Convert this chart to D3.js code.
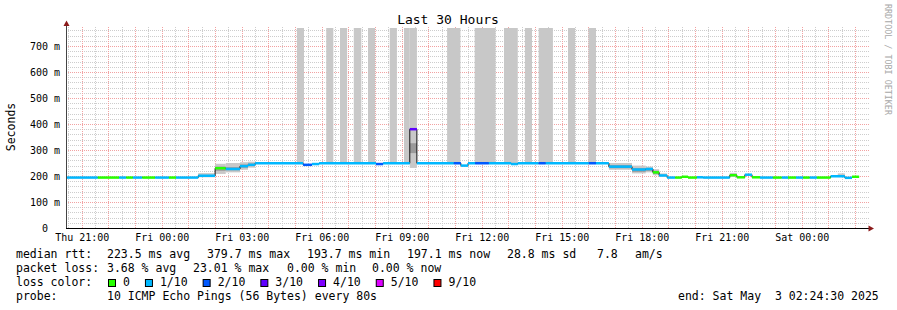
<!DOCTYPE html>
<html>
<head>
<meta charset="utf-8">
<script src="https://cdn.jsdelivr.net/npm/d3@7"></script>
<style>
  body { margin: 0; background: #fff; }
  svg text { font-family: "DejaVu Sans Mono", monospace; white-space: pre; }
</style>
</head>
<body>
<svg id="chart" width="897" height="310"></svg>
<script>
// time window of the graph
const rangeStart = "Thu 20:24:30";
const rangeEnd = "Sat 02:24:30";

// median rtt, one step per consolidated interval (ms) and its loss (tenths)
const stepTimes = [
  "Thu 20:25", "Thu 21:36", "Thu 22:24", "Thu 22:40", "Thu 22:55", "Thu 23:16", "Thu 23:45",
  "Fri 00:16", "Fri 00:32", "Fri 01:22", "Fri 02:00", "Fri 02:24", "Fri 02:56", "Fri 03:14",
  "Fri 03:30", "Fri 05:18", "Fri 05:38", "Fri 05:54", "Fri 08:02", "Fri 08:18", "Fri 09:18",
  "Fri 09:34", "Fri 10:57", "Fri 11:13", "Fri 11:29", "Fri 11:45", "Fri 12:16", "Fri 13:06",
  "Fri 13:21", "Fri 14:08", "Fri 14:24", "Fri 16:01", "Fri 16:17", "Fri 16:46", "Fri 17:38",
  "Fri 18:09", "Fri 18:25", "Fri 18:39", "Fri 18:57", "Fri 19:15", "Fri 19:30", "Fri 19:44",
  "Fri 20:04", "Fri 20:18", "Fri 21:18", "Fri 21:34", "Fri 21:52", "Fri 22:08", "Fri 22:26",
  "Fri 22:55", "Fri 23:15", "Fri 23:29", "Fri 23:47", "Sat 00:03", "Sat 00:18", "Sat 00:34",
  "Sat 01:05", "Sat 01:37", "Sat 01:53"
];
const medianMs = [
  194, 194, 194, 194, 194, 194, 194,
  194, 194, 201, 230, 227, 238, 243,
  249, 243, 246, 249, 246, 249, 380,
  249, 249, 240, 249, 249, 249, 246,
  249, 249, 249, 249, 249, 236, 225,
  227, 214, 202, 194, 194, 197, 194,
  195, 194, 203, 195, 205, 195, 194,
  194, 194, 194, 194, 194, 194, 194,
  199, 193, 197
];
const lossTenths = [
  1, 0, 1, 0, 1, 0, 1,
  0, 1, 1, 0, 1, 1, 1,
  1, 2, 1, 1, 2, 1, 3,
  1, 2, 1, 1, 2, 1, 1,
  1, 2, 1, 2, 1, 1, 1,
  1, 0, 1, 1, 0, 0, 0,
  1, 1, 0, 0, 1, 0, 1,
  0, 1, 0, 1, 0, 1, 0,
  1, 1, 0
];
const lineEnd = "Sat 02:09";

// smoke (spread of the pings); hi values above the graph top are clipped
const smokeFrom = ["Fri 01:22", "Fri 02:00", "Fri 02:24", "Fri 02:56", "Fri 03:14",
  "Fri 05:04", "Fri 06:10", "Fri 06:41", "Fri 07:12", "Fri 07:44", "Fri 08:33", "Fri 09:05",
  "Fri 09:18", "Fri 10:42", "Fri 11:44", "Fri 12:50", "Fri 13:37", "Fri 14:08", "Fri 15:14",
  "Fri 16:00", "Fri 16:46", "Fri 17:38", "Fri 18:09", "Fri 18:25", "Fri 18:39", "Fri 21:18",
  "Sat 01:21"];
const smokeTo = ["Fri 02:00", "Fri 02:24", "Fri 02:56", "Fri 03:14", "Fri 03:30",
  "Fri 05:20", "Fri 06:26", "Fri 06:57", "Fri 07:29", "Fri 08:00", "Fri 08:49", "Fri 09:18",
  "Fri 09:34", "Fri 11:12", "Fri 12:31", "Fri 13:21", "Fri 13:53", "Fri 14:40", "Fri 15:30",
  "Fri 16:17", "Fri 17:38", "Fri 18:09", "Fri 18:25", "Fri 18:39", "Fri 18:57", "Fri 21:34",
  "Sat 01:37"];
const smokeLo = [195, 208, 214, 224, 232,
  249, 249, 249, 249, 249, 249, 249,
  231, 249, 249, 249, 249, 249, 249,
  249, 224, 210, 214, 203, 197, 196,
  196];
const smokeHi = [211, 247, 250, 253, 255,
  900, 900, 900, 900, 900, 900, 900,
  900, 900, 900, 900, 900, 900, 900,
  900, 250, 240, 236, 226, 210, 212,
  210];
const coreLo = [199, 220, 222, 232, 238,
  null, null, null, null, null, null, null,
  288, null, null, null, null, null, null,
  null, 230, 216, 220, 208, null, null,
  null];
const coreHi = [204, 236, 234, 244, 248,
  null, null, null, null, null, null, null,
  326, null, null, null, null, null, null,
  null, 242, 230, 230, 220, null, null,
  null];

// axis values
const yTicks = [0, 100, 200, 300, 400, 500, 600, 700];
const yMax = 769.2;

// legend
const lossLabels = ["0", "1/10", "2/10", "3/10", "4/10", "5/10", "9/10"];
const lossColors = ["#26ff00", "#00b8ff", "#0059ff", "#5e00ff", "#7e00ff", "#dd00ff", "#ff0000"];
const lossKeys = [0, 1, 2, 3, 4, 5, 9];
const rttLegend = ["223.5 ms avg", "379.7 ms max", "193.7 ms min", "197.1 ms now", "28.8 ms sd", "7.8", "am/s"];
const lossLegend = ["3.68 % avg", "23.01 % max", "0.00 % min", "0.00 % now"];
const probeText = "10 ICMP Echo Pings (56 Bytes) every 80s";
const endText = "end: Sat May  3 02:24:30 2025";

const dayOfMonth = { Thu: 1, Fri: 2, Sat: 3 };
function T(s) {
  const [d, hm] = s.split(" ");
  const [h, m, sec] = hm.split(":").map(Number);
  return new Date(2025, 4, dayOfMonth[d], h, m, sec || 0);
}
function lossColor(l) {
  return lossColors[lossKeys.indexOf(l)];
}

const svg = d3.select("#chart");
const plotLeft = 66, plotRight = 866, plotTop = 28, plotBottom = 228;

const x = d3.scaleTime().domain([T(rangeStart), T(rangeEnd)]).range([plotLeft, plotRight]);
const y = d3.scaleLinear().domain([0, yMax]).range([plotBottom, plotTop]).clamp(true);

// grid
const grid = svg.append("g");
const minorX = x.ticks(d3.timeMinute.every(30)).filter(d => d.getMinutes() !== 0);
const majorX = x.ticks(d3.timeHour.every(1));
const minorY = d3.range(20, yMax, 20).filter(v => v % 100 !== 0);
const majorY = yTicks.filter(v => v > 0);
const minorCol = "#cdcdcd", majorCol = "#f2a2a2";

grid.selectAll("line.mx").data(minorX).join("line")
  .attr("x1", d => Math.round(x(d)) + 0.5).attr("x2", d => Math.round(x(d)) + 0.5)
  .attr("y1", plotBottom).attr("y2", plotTop - 1)
  .attr("stroke", minorCol).attr("stroke-dasharray", "1,1");
grid.selectAll("line.my").data(minorY).join("line")
  .attr("x1", plotLeft).attr("x2", 869)
  .attr("y1", d => Math.round(y(d)) + 0.5).attr("y2", d => Math.round(y(d)) + 0.5)
  .attr("stroke", minorCol).attr("stroke-dasharray", "1,1");
grid.selectAll("line.Mx").data(majorX).join("line")
  .attr("x1", d => Math.round(x(d)) + 0.5).attr("x2", d => Math.round(x(d)) + 0.5)
  .attr("y1", plotBottom).attr("y2", plotTop - 1)
  .attr("stroke", majorCol).attr("stroke-dasharray", "1,1");
grid.selectAll("line.My").data(majorY).join("line")
  .attr("x1", plotLeft).attr("x2", 869)
  .attr("y1", d => Math.round(y(d)) + 0.5).attr("y2", d => Math.round(y(d)) + 0.5)
  .attr("stroke", majorCol).attr("stroke-dasharray", "1,1");

// smoke
const smoke = smokeFrom.map((f, i) => ({ f: T(f), t: T(smokeTo[i]), lo: smokeLo[i], hi: smokeHi[i], clo: coreLo[i], chi: coreHi[i] }));
svg.append("g").selectAll("rect").data(smoke).join("rect")
  .attr("x", d => x(d.f)).attr("width", d => x(d.t) - x(d.f))
  .attr("y", d => y(d.hi)).attr("height", d => y(d.lo) - y(d.hi))
  .attr("fill", "#c8c8c8");
svg.append("g").selectAll("rect").data(smoke.filter(d => d.clo != null)).join("rect")
  .attr("x", d => x(d.f)).attr("width", d => x(d.t) - x(d.f))
  .attr("y", d => y(d.chi)).attr("height", d => y(d.clo) - y(d.chi))
  .attr("fill", "#9a9a9a");

// median line: thin dark step line, then loss coloured segments
const steps = stepTimes.map((t, i) => ({ t0: T(t), t1: T(stepTimes[i + 1] || lineEnd), v: medianMs[i], l: lossTenths[i] }));
const pts = steps.map(d => [d.t0, d.v]).concat([[T(lineEnd), medianMs[medianMs.length - 1]]]);
svg.append("path")
  .attr("d", d3.line().x(d => x(d[0])).y(d => y(d[1])).curve(d3.curveStepAfter)(pts))
  .attr("fill", "none").attr("stroke", "#111").attr("stroke-width", 1);
svg.append("g").selectAll("line").data(steps).join("line")
  .attr("x1", d => x(d.t0)).attr("x2", d => x(d.t1))
  .attr("y1", d => y(d.v)).attr("y2", d => y(d.v))
  .attr("stroke", d => lossColor(d.l)).attr("stroke-width", 2.5);

// axes
const xAxis = svg.append("g").attr("transform", `translate(0,${plotBottom})`)
  .call(d3.axisBottom(x).tickValues(x.ticks(d3.timeHour.every(3)).filter(d => d.getHours() % 3 === 0))
    .tickFormat(d3.timeFormat("%a %H:%M")).tickSize(0).tickPadding(6));
xAxis.select(".domain").remove();
xAxis.selectAll("text").attr("font-size", 10).attr("fill", "#000").style("font-family", "DejaVu Sans Mono");

const yAxis = svg.append("g").attr("transform", `translate(${plotLeft},0)`)
  .call(d3.axisLeft(y).tickValues(yTicks).tickFormat(v => v === 0 ? "0  " : v + " m").tickSize(0).tickPadding(6));
yAxis.select(".domain").remove();
yAxis.selectAll("text").attr("font-size", 10).attr("fill", "#000").attr("dy", "0.37em")
  .style("font-family", "DejaVu Sans Mono");

svg.append("line").attr("x1", plotLeft + 0.5).attr("x2", plotLeft + 0.5).attr("y1", plotBottom + 0.5).attr("y2", 23)
  .attr("stroke", "#444");
svg.append("line").attr("x1", plotLeft).attr("x2", 869).attr("y1", plotBottom + 0.5).attr("y2", plotBottom + 0.5)
  .attr("stroke", "#000");
svg.append("path").attr("d", "M63.5,26L69.5,26L66.5,20.5Z").attr("fill", "#8b1a1a");
svg.append("path").attr("d", "M868.5,225.5L868.5,231.5L874,228.5Z").attr("fill", "#8b1a1a");

// titles
svg.append("text").attr("x", 448).attr("y", 24).attr("text-anchor", "middle")
  .attr("font-size", 13).text("Last 30 Hours");
svg.append("text").attr("transform", "translate(15,127) rotate(-90)").attr("text-anchor", "middle")
  .attr("font-size", 11.5).text("Seconds");
svg.append("text").attr("transform", "translate(885,4) rotate(90)")
  .attr("font-size", 8.4).attr("fill", "#a8a8a8").text("RRDTOOL / TOBI OETIKER");

// legend
const leg = svg.append("g").attr("font-size", 11.5).attr("fill", "#000");
const rttX = [107, 207, 307, 407, 507, 597, 635];
const lossX = [107, 193, 287, 372];
leg.append("text").attr("x", 16).attr("y", 258).text("median rtt:");
rttLegend.forEach((s, i) => leg.append("text").attr("x", rttX[i]).attr("y", 258).text(s));
leg.append("text").attr("x", 16).attr("y", 272).text("packet loss:");
lossLegend.forEach((s, i) => leg.append("text").attr("x", lossX[i]).attr("y", 272).text(s));
leg.append("text").attr("x", 16).attr("y", 286).text("loss color:");
let bx = 108;
lossLabels.forEach((s, i) => {
  leg.append("rect").attr("x", bx + 0.5).attr("y", 279.5).attr("width", 7).attr("height", 7)
    .attr("fill", lossColors[i]).attr("stroke", "#000");
  const t = leg.append("text").attr("x", bx + 15).attr("y", 286).text(s);
  bx = bx + 15 + t.node().getComputedTextLength() + 15;
});
leg.append("text").attr("x", 16).attr("y", 300).text("probe:");
leg.append("text").attr("x", 107).attr("y", 300).text(probeText);
leg.append("text").attr("x", 678).attr("y", 300).text(endText);
</script>
</body>
</html>
